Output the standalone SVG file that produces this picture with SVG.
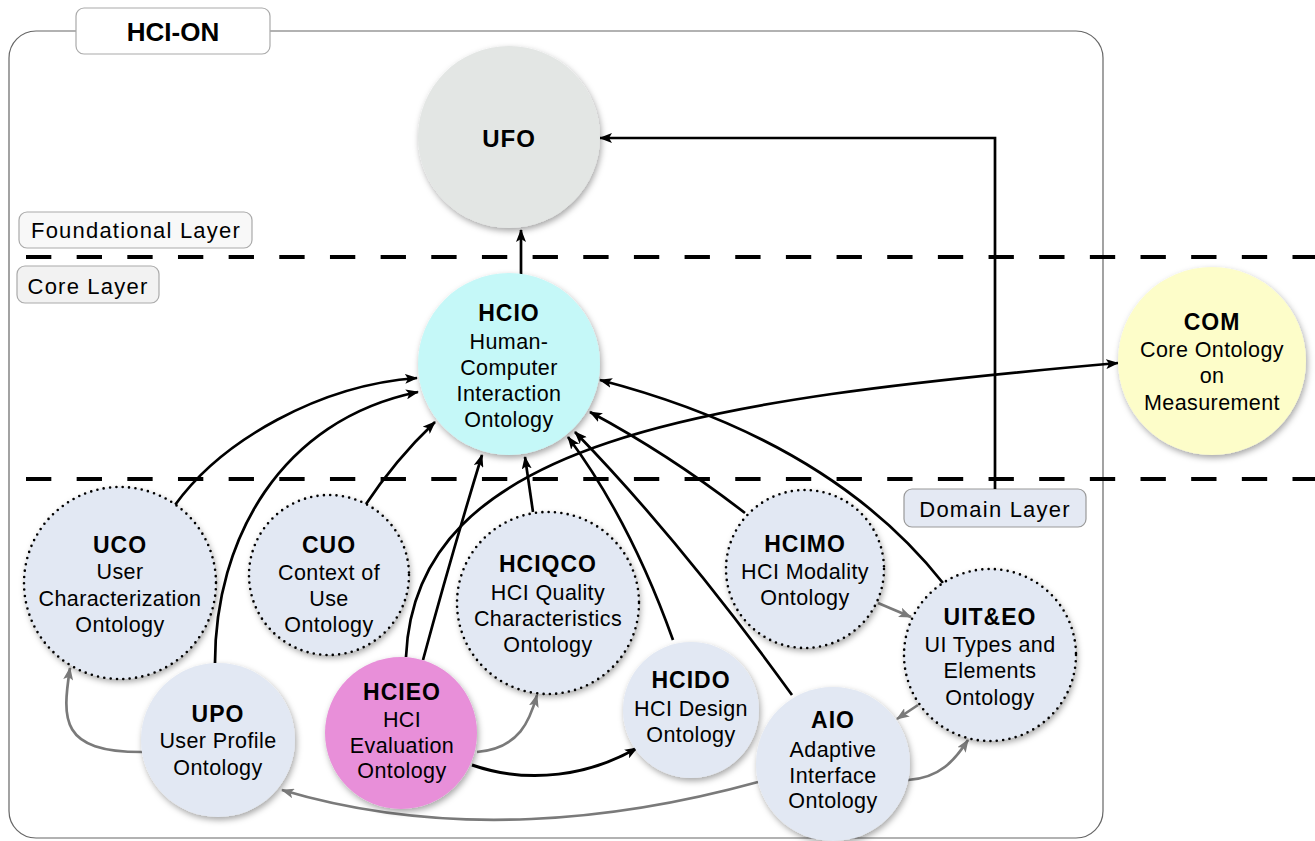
<svg xmlns="http://www.w3.org/2000/svg" width="1315" height="841" viewBox="0 0 1315 841">
<defs>
<filter id="sh" x="-20%" y="-20%" width="140%" height="140%">
<feDropShadow dx="1.5" dy="3" stdDeviation="3" flood-color="#000" flood-opacity="0.35"/>
</filter>
<marker id="ab" markerUnits="userSpaceOnUse" markerWidth="14" markerHeight="10" refX="12" refY="5" orient="auto">
<path d="M0,0 L13,5 L0,10 L3,5 z" fill="#000"/>
</marker>
<marker id="ag" markerUnits="userSpaceOnUse" markerWidth="14" markerHeight="10" refX="12" refY="5" orient="auto">
<path d="M0,0 L13,5 L0,10 L3,5 z" fill="#7a7a7a"/>
</marker>
</defs>
<style>
text{font-family:"Liberation Sans",Arial,sans-serif;fill:#000;text-anchor:middle}
.t{font-weight:bold;font-size:23px;letter-spacing:1px}
.s{font-size:21.5px;letter-spacing:0.4px}
.lab{font-size:22px;letter-spacing:1.2px}
.dash{stroke:#000;stroke-width:4;stroke-dasharray:25.33 25.33;fill:none}
.c{fill:none;stroke:#000;stroke-width:2.7;marker-end:url(#ab)}
.g{fill:none;stroke:#7a7a7a;stroke-width:2.7;marker-end:url(#ag)}
.n{fill:#e2e8f3;filter:url(#sh)}
.dot{fill:none;stroke:#000;stroke-width:2.6;stroke-linecap:round;stroke-dasharray:0 6.4}
</style>
<rect width="1315" height="841" fill="#fff"/>
<g id="frame">
<rect x="9" y="31" width="1094" height="807" rx="27" fill="none" stroke="#666" stroke-width="1.2"/>
<rect x="76" y="8" width="194" height="46" rx="8" fill="#fff" stroke="#aaa" stroke-width="1.2"/>
<text x="173" y="41" style="font-weight:bold;font-size:26px">HCI-ON</text>
</g>
<g id="layers">
<line class="dash" x1="26" y1="257" x2="1315" y2="257"/>
<line class="dash" x1="26" y1="479" x2="1315" y2="479"/>
<rect x="19" y="212" width="233" height="36" rx="8" fill="#f8f8f8" stroke="#aaa" stroke-width="1.2"/>
<text class="lab" x="136" y="238">Foundational Layer</text>
<rect x="17" y="266" width="142" height="37" rx="8" fill="#f2f2f2" stroke="#aaa" stroke-width="1.2"/>
<text class="lab" x="88" y="294">Core Layer</text>
<rect x="904" y="489" width="182" height="38" rx="8" fill="#e4e9f3" stroke="#999" stroke-width="1.2"/>
<text class="lab" x="995" y="517">Domain Layer</text>
</g>
<g id="connectors">
<path class="c" d="M995,489 L995,138 L600,138"/>
<path class="c" d="M521,275 L521,230"/>
<path class="c" d="M406,657 C415,440 700,400 1118,363"/>
<path class="c" d="M175,505 C222,440 320,385 417,378"/>
<path class="c" d="M215,663 C215,540 280,420 418,392"/>
<path class="c" d="M364,507 Q395,460 435,422"/>
<path class="c" d="M423,660 Q450,560 482,455"/>
<path class="c" d="M533,512 L525,457"/>
<path class="c" d="M673,640 Q630,520 568,437"/>
<path class="c" d="M792,695 Q680,540 575,432"/>
<path class="c" d="M745,513 Q670,455 590,412"/>
<path class="c" d="M943,583 Q830,440 600,380"/>
<path class="c" d="M472,765 C530,785 590,775 637,748" style="stroke-width:3"/>
<path class="g" d="M142,752 C60,752 62,720 70,668"/>
<path class="g" d="M477,752 C520,748 530,720 537,695"/>
<path class="g" d="M758,782 C620,820 450,840 282,790"/>
<path class="g" d="M878,603 L911,617"/>
<path class="g" d="M918,705 L897,719"/>
<path class="g" d="M908,780 C940,778 955,760 968,740"/>
</g>
<g id="UFO">
<circle cx="509" cy="137" r="91" fill="#e3e6e4" filter="url(#sh)"/>
<text class="t" x="509" y="147" style="font-size:24px">UFO</text>
</g>
<g id="HCIO">
<circle cx="509" cy="364" r="91" fill="#c5f8f8" filter="url(#sh)"/>
<text class="t" x="509" y="321">HCIO</text>
<text class="s" x="509" y="349">Human-</text>
<text class="s" x="509" y="375">Computer</text>
<text class="s" x="509" y="401">Interaction</text>
<text class="s" x="509" y="427">Ontology</text>
</g>
<g id="COM">
<circle cx="1212" cy="361" r="94" fill="#fdfdc9" filter="url(#sh)"/>
<text class="t" x="1212" y="330">COM</text>
<text class="s" x="1212" y="357">Core Ontology</text>
<text class="s" x="1212" y="383">on</text>
<text class="s" x="1212" y="410">Measurement</text>
</g>
<g id="UCO">
<circle class="n" cx="120" cy="583" r="96"/>
<circle class="dot" cx="120" cy="583" r="96"/>
<text class="t" x="120" y="553">UCO</text>
<text class="s" x="120" y="579">User</text>
<text class="s" x="120" y="606">Characterization</text>
<text class="s" x="120" y="632">Ontology</text>
</g>
<g id="CUO">
<circle class="n" cx="329" cy="575" r="80"/>
<circle class="dot" cx="329" cy="575" r="80"/>
<text class="t" x="329" y="553">CUO</text>
<text class="s" x="329" y="580">Context of</text>
<text class="s" x="329" y="606">Use</text>
<text class="s" x="329" y="632">Ontology</text>
</g>
<g id="HCIQCO">
<circle class="n" cx="548" cy="603" r="91"/>
<circle class="dot" cx="548" cy="603" r="91"/>
<text class="t" x="548" y="572">HCIQCO</text>
<text class="s" x="548" y="600">HCI Quality</text>
<text class="s" x="548" y="626">Characteristics</text>
<text class="s" x="548" y="652">Ontology</text>
</g>
<g id="HCIMO">
<circle class="n" cx="805" cy="569" r="79"/>
<circle class="dot" cx="805" cy="569" r="79"/>
<text class="t" x="805" y="552">HCIMO</text>
<text class="s" x="805" y="579">HCI Modality</text>
<text class="s" x="805" y="605">Ontology</text>
</g>
<g id="UITEO">
<circle class="n" cx="990" cy="655" r="86"/>
<circle class="dot" cx="990" cy="655" r="86"/>
<text class="t" x="990" y="625">UIT&amp;EO</text>
<text class="s" x="990" y="652">UI Types and</text>
<text class="s" x="990" y="678">Elements</text>
<text class="s" x="990" y="705">Ontology</text>
</g>
<g id="UPO">
<circle class="n" cx="218" cy="740" r="77"/>
<text class="t" x="218" y="722">UPO</text>
<text class="s" x="218" y="748">User Profile</text>
<text class="s" x="218" y="775">Ontology</text>
</g>
<g id="HCIEO">
<circle cx="401" cy="733" r="76" fill="#e88fd9" filter="url(#sh)"/>
<text class="t" x="402" y="700">HCIEO</text>
<text class="s" x="402" y="727">HCI</text>
<text class="s" x="402" y="753">Evaluation</text>
<text class="s" x="402" y="778">Ontology</text>
</g>
<g id="HCIDO">
<circle class="n" cx="691" cy="710" r="68"/>
<text class="t" x="691" y="688">HCIDO</text>
<text class="s" x="691" y="716">HCI Design</text>
<text class="s" x="691" y="742">Ontology</text>
</g>
<g id="AIO">
<circle class="n" cx="833" cy="764" r="77"/>
<text class="t" x="833" y="728">AIO</text>
<text class="s" x="833" y="757">Adaptive</text>
<text class="s" x="833" y="783">Interface</text>
<text class="s" x="833" y="808">Ontology</text>
</g>
</svg>
